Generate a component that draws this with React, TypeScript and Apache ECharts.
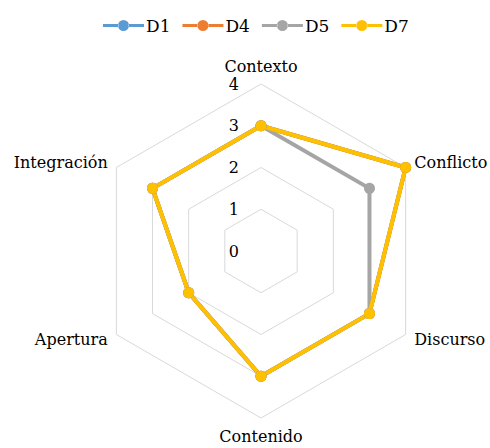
import React, { useEffect, useRef } from "react";
import * as echarts from "echarts";

// Indicators listed clockwise from the top, as in the reference
const indicators = ["Contexto", "Conflicto", "Discurso", "Contenido", "Apertura", "Integración"];
const seriesNames = ["D1", "D4", "D5", "D7"];
const colors = ["#5B9BD5", "#ED7D31", "#A5A5A5", "#FFC000"];
const d1 = [3, 4, 3, 3, 2, 3];
const d4 = [3, 4, 3, 3, 2, 3];
const d5 = [3, 3, 3, 3, 2, 3];
const d7 = [3, 4, 3, 3, 2, 3];
const maxValue = 4;
const FONT = "DejaVu Serif";

// ECharts places radar indicators counter-clockwise; reorder to get clockwise layout
const order = [0, 5, 4, 3, 2, 1];

const legendIcon =
  "path://M0,4.5 L15.5,4.5 L15.5,7.5 L0,7.5 Z M25.5,4.5 L41,4.5 L41,7.5 L25.5,7.5 Z M15,6 A5.5,5.5 0 1,0 26,6 A5.5,5.5 0 1,0 15,6 Z";

export default function App() {
  const ref = useRef<HTMLDivElement>(null);
  useEffect(() => {
    document.body.style.margin = "0";
    if (!ref.current) return;
    const chart = echarts.init(ref.current, undefined, { renderer: "svg" });
    const values = [d1, d4, d5, d7];
    chart.setOption({
      animation: false,
      legend: {
        top: 12,
        left: 98,
        itemWidth: 41,
        itemHeight: 12,
        itemGap: 12,
        icon: legendIcon,
        data: seriesNames,
        textStyle: { fontFamily: FONT, fontSize: 17, color: "#000", padding: [0, 0, 0, -3] },
      },
      radar: {
        center: [261, 251],
        radius: 167,
        startAngle: 90,
        splitNumber: 4,
        shape: "polygon",
        axisName: { fontFamily: FONT, fontSize: 16, color: "#000" },
        nameGap: 10,
        axisLine: { show: false },
        axisTick: { show: false },
        splitArea: { show: false },
        splitLine: { lineStyle: { color: "#D9D9D9", width: 1 } },
        axisLabel: { show: false },
        indicator: order.map((k, i) => ({
          name: indicators[k],
          min: 0,
          max: maxValue,
          ...(i === 0
            ? {
                axisLabel: {
                  show: true,
                  fontFamily: FONT,
                  fontSize: 16,
                  color: "#000",
                  margin: 22,
                  padding: [7, 0, 0, 0],
                },
              }
            : {}),
        })),
      },
      series: values.map((v, i) => ({
        type: "radar",
        name: seriesNames[i],
        symbol: "circle",
        symbolSize: 11,
        itemStyle: { color: colors[i] },
        lineStyle: { color: colors[i], width: 4 },
        data: [{ value: order.map((k) => v[k]), name: seriesNames[i] }],
      })),
    });
    return () => chart.dispose();
  }, []);
  return <div ref={ref} style={{ width: 490, height: 448 }} />;
}
